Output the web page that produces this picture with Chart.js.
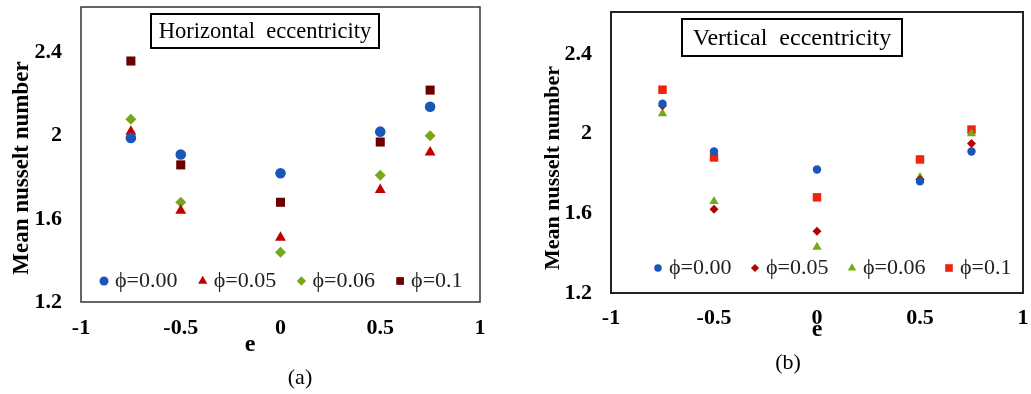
<!DOCTYPE html>
<html>
<head>
<meta charset="utf-8">
<script src="https://cdn.jsdelivr.net/npm/chart.js@4.4.0/dist/chart.umd.min.js"></script>
<style>
  html, body { margin: 0; padding: 0; background: #fff; }
  #wrap { position: relative; width: 1031px; height: 394px; overflow: hidden; }
  canvas { position: absolute; top: 0; }
</style>
</head>
<body>
<div id="wrap">
  <canvas id="chartA" width="505" height="394" style="left:0"></canvas>
  <canvas id="chartB" width="511" height="394" style="left:520px"></canvas>
</div>
<script>
// eccentricity values and tick labels
var eValues = [-0.75, -0.5, 0, 0.5, 0.75];
var xTicks = [-1, -0.5, 0, 0.5, 1];
var yTicks = [1.2, 1.6, 2, 2.4];
var phiLabels = ['ϕ=0.00', 'ϕ=0.05', 'ϕ=0.06', 'ϕ=0.1'];

// (a) horizontal eccentricity
var horiz000 = [1.99, 1.91, 1.82, 2.02, 2.14];
var horiz005 = [2.02, 1.64, 1.51, 1.74, 1.92];
var horiz006 = [2.08, 1.68, 1.44, 1.81, 2.00];
var horiz010 = [2.36, 1.86, 1.68, 1.97, 2.22];

// (b) vertical eccentricity
var vert000 = [2.15, 1.91, 1.82, 1.76, 1.91];
var vert005 = [2.14, 1.62, 1.51, 1.77, 1.95];
var vert006 = [2.10, 1.66, 1.43, 1.78, 2.00];
var vert010 = [2.22, 1.88, 1.68, 1.87, 2.02];

var serif = "'Liberation Serif', 'Times New Roman', serif";

function series(label, values, style, color, radius) {
  return {
    label: label,
    data: eValues.map(function(e, i) { return {x: e, y: values[i]}; }),
    pointStyle: style,
    backgroundColor: color,
    borderColor: color,
    borderWidth: 0,
    pointRadius: radius,
    pointHoverRadius: radius,
    showLine: false
  };
}

// frame, boxed heading, axis titles, caption and the legend inside the plot
var decor = {
  id: 'decor',
  beforeDatasetsDraw: function(chart, args, o) {
    var ctx = chart.ctx, a = chart.chartArea;
    ctx.save();
    ctx.strokeStyle = o.frameColor;
    ctx.lineWidth = o.frameWidth;
    ctx.strokeRect(a.left, a.top, a.right - a.left, a.bottom - a.top);
    ctx.restore();
  },
  afterDraw: function(chart, args, o) {
    var ctx = chart.ctx;
    ctx.save();
    ctx.textBaseline = 'middle';
    ctx.textAlign = 'center';

    var b = o.heading;
    ctx.fillStyle = '#fff';
    ctx.fillRect(b.x, b.y, b.w, b.h);
    ctx.lineWidth = 2;
    ctx.strokeStyle = '#000';
    ctx.strokeRect(b.x, b.y, b.w, b.h);
    ctx.fillStyle = '#000';
    ctx.font = b.size + 'px ' + serif;
    ctx.fillText(b.text, b.x + b.w / 2, b.y + b.h / 2 + 1);

    var t = o.yTitle;
    ctx.font = 'bold ' + t.size + 'px ' + serif;
    ctx.save();
    ctx.translate(t.x, t.y);
    ctx.rotate(-Math.PI / 2);
    ctx.fillText(t.text, 0, 0);
    ctx.restore();

    t = o.xTitle;
    ctx.font = 'bold ' + t.size + 'px ' + serif;
    ctx.fillText(t.text, t.x, t.y);

    t = o.caption;
    ctx.font = t.size + 'px ' + serif;
    ctx.fillText(t.text, t.x, t.y);

    var L = o.legend;
    ctx.font = L.size + 'px ' + serif;
    ctx.textAlign = 'left';
    chart.data.datasets.forEach(function(ds, i) {
      var mx = L.x + i * L.step;
      ctx.fillStyle = ds.backgroundColor;
      Chart.helpers.drawPoint(ctx, {pointStyle: ds.pointStyle, radius: ds.pointRadius * L.scale, rotation: 0, borderWidth: 0}, mx, L.y);
      ctx.fillStyle = L.color;
      ctx.fillText(ds.label, mx + L.gap, L.y);
    });
    ctx.restore();
  }
};

function makeOptions(cfg) {
  var tickFont = {family: serif, size: 22, weight: 'bold'};
  return {
    responsive: false,
    animation: false,
    layout: {padding: cfg.padding},
    plugins: {
      legend: {display: false},
      tooltip: {enabled: false},
      decor: cfg.decor
    },
    scales: {
      x: {
        type: 'linear', min: -1, max: 1,
        grid: {display: false, drawTicks: false},
        border: {display: false},
        ticks: {padding: cfg.xPad, color: '#000', font: tickFont, maxRotation: 0, autoSkip: false,
                callback: function(v) { return String(v); }},
        afterBuildTicks: function(s) { s.ticks = xTicks.map(function(v) { return {value: v}; }); },
        afterFit: function(s) {
          s.height = cfg.xHeight;
          s.paddingLeft = s.paddingRight = 0;
        }
      },
      y: {
        type: 'linear', min: 1.2, max: cfg.yMax,
        grid: {display: false, drawTicks: false},
        border: {display: false},
        ticks: {padding: 19, color: '#000', font: tickFont, autoSkip: false,
                callback: function(v) { return String(v); }},
        afterBuildTicks: function(s) { s.ticks = yTicks.map(function(v) { return {value: v}; }); },
        afterFit: function(s) {
          s.width = cfg.yWidth;
          s.paddingTop = s.paddingBottom = 0;
        }
      }
    }
  };
}

new Chart(document.getElementById('chartA'), {
  type: 'scatter',
  data: {
    datasets: [
      series(phiLabels[0], horiz000, 'circle', '#1a56b8', 5.3),
      series(phiLabels[1], horiz005, 'triangle', '#c00000', 6.3),
      series(phiLabels[2], horiz006, 'rectRot', '#79a71a', 5.5),
      series(phiLabels[3], horiz010, 'rect', '#6b0000', 6.4)
    ]
  },
  options: makeOptions({
    padding: {top: 7, right: 25, bottom: 0, left: 0},
    yWidth: 81, xHeight: 92, xPad: 13, yMax: 2.62,
    decor: {
      frameColor: '#333', frameWidth: 1.5,
      heading: {text: 'Horizontal  eccentricity', x: 151, y: 14, w: 228, h: 34, size: 22.5},
      yTitle: {text: 'Mean nusselt number', x: 22, y: 168, size: 23},
      xTitle: {text: 'e', x: 250, y: 345, size: 24},
      caption: {text: '(a)', x: 300, y: 378, size: 22},
      legend: {x: 104, y: 281, step: 98.7, gap: 11, size: 22, scale: 0.85, color: '#222'}
    }
  }),
  plugins: [decor]
});

new Chart(document.getElementById('chartB'), {
  type: 'scatter',
  data: {
    datasets: [
      series(phiLabels[0], vert000, 'circle', '#1a56b8', 4.2),
      series(phiLabels[1], vert005, 'rectRot', '#b40000', 4.5),
      series(phiLabels[2], vert006, 'triangle', '#78a81a', 5.4),
      series(phiLabels[3], vert010, 'rect', '#f0230f', 6.0)
    ]
  },
  options: makeOptions({
    padding: {top: 12, right: 8, bottom: 0, left: 0},
    yWidth: 91, xHeight: 101, xPad: 12, yMax: 2.61,
    decor: {
      frameColor: '#222', frameWidth: 2,
      heading: {text: 'Vertical  eccentricity', x: 162, y: 19, w: 220, h: 37, size: 24},
      yTitle: {text: 'Mean nusselt number', x: 33, y: 168, size: 22},
      xTitle: {text: 'e', x: 297, y: 330, size: 24},
      caption: {text: '(b)', x: 268, y: 363, size: 22},
      legend: {x: 138, y: 268, step: 97, gap: 11, size: 22, scale: 0.9, color: '#222'}
    }
  }),
  plugins: [decor]
});
</script>
</body>
</html>
